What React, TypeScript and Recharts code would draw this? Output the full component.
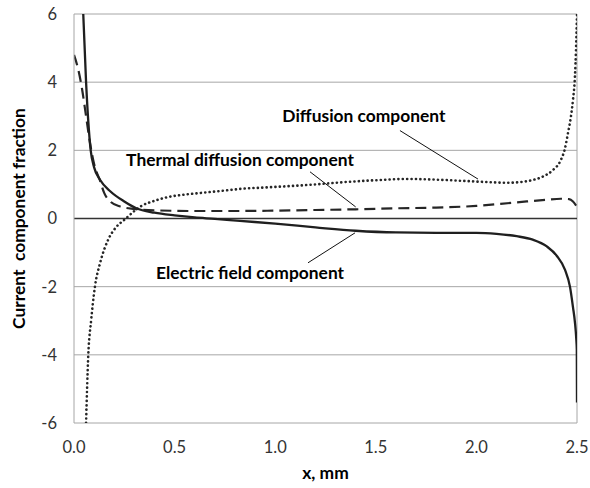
import React from 'react';
import {
  LineChart,
  Line,
  XAxis,
  YAxis,
  CartesianGrid,
  ReferenceLine,
  ReferenceDot,
} from 'recharts';

const xTicks = [0, 0.5, 1.0, 1.5, 2.0, 2.5];
const yTicks = [-6, -4, -2, 0, 2, 4, 6];

const electricX = [0.046, 0.06, 0.083, 0.1, 0.13, 0.18, 0.25, 0.31, 0.4, 0.5, 0.6, 0.7, 0.825, 1.0, 1.2, 1.4, 1.6, 1.8, 2.0, 2.1, 2.2, 2.28, 2.35, 2.4, 2.44, 2.465, 2.48, 2.49, 2.496, 2.499, 2.5];
const electricY = [6, 4, 2, 1.5, 1.13, 0.8, 0.5, 0.3, 0.17, 0.09, 0.03, -0.01, -0.07, -0.15, -0.26, -0.36, -0.41, -0.42, -0.42, -0.45, -0.52, -0.62, -0.82, -1.1, -1.5, -2.0, -2.6, -3.06, -3.5, -3.85, -5.4];

const thermalX = [0, 0.02, 0.04, 0.06, 0.08, 0.1, 0.13, 0.15, 0.18, 0.23, 0.3, 0.4, 0.6, 0.8, 1.0, 1.2, 1.4, 1.6, 1.8, 2.0, 2.12, 2.25, 2.35, 2.42, 2.46, 2.48, 2.5];
const thermalY = [4.8, 4.4, 3.8, 3.0, 2.2, 1.6, 1.1, 0.75, 0.5, 0.35, 0.28, 0.24, 0.22, 0.22, 0.23, 0.25, 0.27, 0.3, 0.32, 0.37, 0.43, 0.5, 0.55, 0.58, 0.57, 0.5, 0.34];

const diffusionX = [0.06, 0.071, 0.085, 0.104, 0.13, 0.17, 0.21, 0.25, 0.3, 0.33, 0.4, 0.46, 0.55, 0.63, 0.75, 0.83, 0.95, 1.07, 1.2, 1.35, 1.49, 1.65, 1.8, 1.95, 2.05, 2.15, 2.22, 2.28, 2.33, 2.38, 2.42, 2.44, 2.455, 2.47, 2.48, 2.49, 2.495, 2.5];
const diffusionY = [-6, -4, -3, -2, -1.3, -0.62, -0.25, -0.04, 0.22, 0.35, 0.52, 0.62, 0.7, 0.75, 0.82, 0.87, 0.91, 0.95, 1.0, 1.07, 1.12, 1.16, 1.14, 1.1, 1.07, 1.05, 1.07, 1.13, 1.23, 1.42, 1.72, 2.05, 2.5, 3.0, 3.48, 4.2, 4.95, 6];

const annotationTexts = ['Diffusion component', 'Thermal diffusion component', 'Electric field component'];
const annotationAnchors = [
  { x: 1.441, y: 3.01 },
  { x: 0.825, y: 1.72 },
  { x: 0.875, y: -1.59 },
];
const leaderLines = [
  [{ x: 1.62, y: 2.58 }, { x: 2.008, y: 1.156 }],
  [{ x: 1.173, y: 1.37 }, { x: 1.40, y: 0.34 }],
  [{ x: 1.163, y: -1.3 }, { x: 1.397, y: -0.42 }],
];

const toRows = (xs: number[], ys: number[]) => xs.map((x, i) => ({ x, y: ys[i] }));
const electric = toRows(electricX, electricY);
const thermal = toRows(thermalX, thermalY);
const diffusion = toRows(diffusionX, diffusionY);

const FONT = "Lato, 'Open Sans', sans-serif";
const GRID = '#a6a6a6';
const BOLD_SIZE = 17.4;

export default function App() {
  return (
    <div style={{ position: 'absolute', left: 0, top: 0, width: 590, height: 488, background: '#fff' }}>
      <LineChart width={590} height={488} margin={{ top: 14, right: 13, left: 14, bottom: 0 }}>
        <CartesianGrid vertical={false} stroke={GRID} strokeWidth={1} />
        <XAxis
          type="number"
          dataKey="x"
          domain={[0, 2.5]}
          ticks={xTicks}
          tickFormatter={(v: number) => v.toFixed(1)}
          allowDataOverflow
          axisLine={false}
          tickLine={false}
          tickSize={0}
          tickMargin={18}
          height={65}
          tick={{ fontFamily: FONT, fontSize: 16.5, fill: '#333' }}
          label={{
            content: (props: any) => {
              const vb = props.viewBox;
              return (
                <text
                  x={vb.x + vb.width / 2}
                  y={vb.y + 56}
                  textAnchor="middle"
                  fontFamily={FONT}
                  fontSize={BOLD_SIZE}
                  fontWeight={700}
                  fill="#000"
                >
                  x, mm
                </text>
              );
            },
          }}
        />
        <YAxis
          type="number"
          domain={[-6, 6]}
          ticks={yTicks}
          allowDataOverflow
          width={60}
          axisLine={{ stroke: GRID }}
          tickLine={false}
          tickSize={0}
          tickMargin={17}
          tick={{ fontFamily: FONT, fontSize: 16.5, fill: '#333' }}
          label={{
            content: (props: any) => {
              const vb = props.viewBox;
              const cx = vb.x + 4.5;
              const cy = vb.y + vb.height / 2;
              return (
                <text
                  x={cx}
                  y={cy}
                  transform={`rotate(-90 ${cx} ${cy})`}
                  textAnchor="middle"
                  dominantBaseline="central"
                  fontFamily={FONT}
                  fontSize={BOLD_SIZE}
                  fontWeight={700}
                  fill="#000"
                  style={{ whiteSpace: 'pre' }}
                >
                  {'Current  component fraction'}
                </text>
              );
            },
          }}
        />
        <ReferenceLine x={2.5} stroke={GRID} strokeWidth={1} />
        <ReferenceLine y={0} stroke="#333" strokeWidth={1.5} />
        <Line
          data={diffusion}
          dataKey="y"
          type="monotone"
          stroke="#262626"
          strokeWidth={2.6}
          strokeDasharray="0.1 4.3"
          strokeLinecap="round"
          dot={false}
          isAnimationActive={false}
        />
        <Line
          data={thermal}
          dataKey="y"
          type="monotone"
          stroke="#262626"
          strokeWidth={2.2}
          strokeDasharray="11 6"
          dot={false}
          isAnimationActive={false}
        />
        <Line
          data={electric}
          dataKey="y"
          type="monotone"
          stroke="#1f1f1f"
          strokeWidth={2.3}
          dot={false}
          isAnimationActive={false}
        />
        {leaderLines.map((seg, i) => (
          <ReferenceLine
            key={`l${i}`}
            segment={seg}
            stroke="#111"
            strokeWidth={1}
          />
        ))}
        {annotationTexts.map((t, i) => (
          <ReferenceDot
            key={`t${i}`}
            x={annotationAnchors[i].x}
            y={annotationAnchors[i].y}
            r={0}
            fill="none"
            stroke="none"
            label={{
              value: t,
              position: 'center',
              fill: '#000',
              fontFamily: FONT,
              fontSize: BOLD_SIZE,
              fontWeight: 700,
            }}
          />
        ))}
      </LineChart>
    </div>
  );
}
